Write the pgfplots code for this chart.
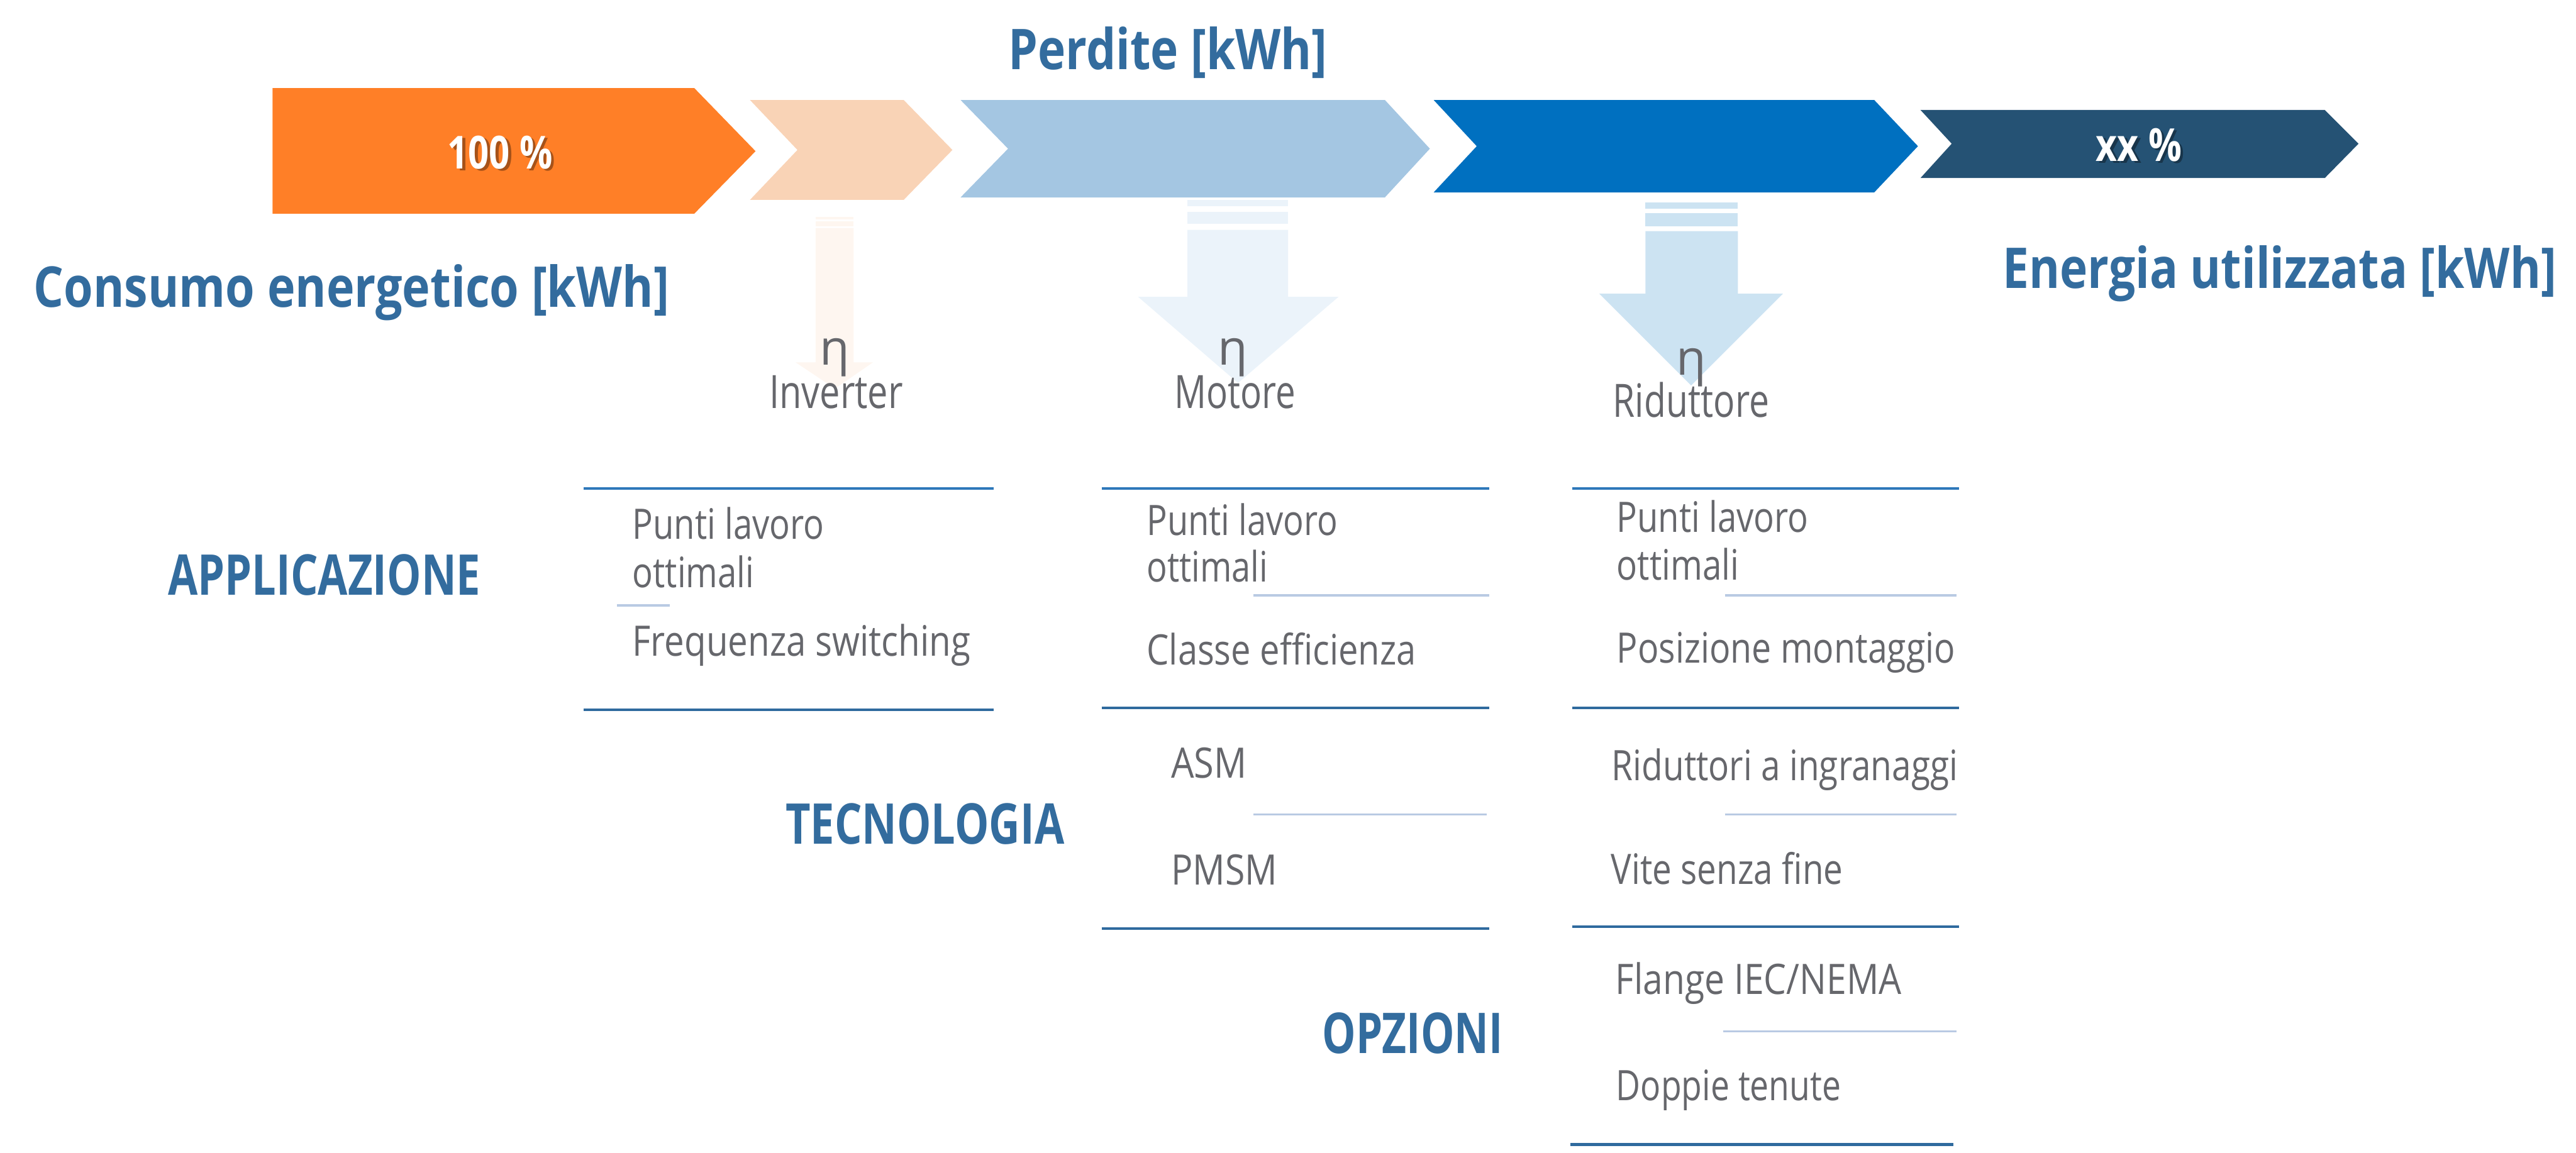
\documentclass[border=0pt]{standalone}
\usepackage{fontspec}
\setmainfont{Open Sans}
\usepackage{graphicx}
\usepackage{pgfplots}
\pgfplotsset{compat=1.18}
\definecolor{cOrange}{HTML}{FF7F27}
\definecolor{cPeach}{HTML}{F9D3B6}
\definecolor{cLBlue}{HTML}{A4C6E2}
\definecolor{cBlue}{HTML}{0070C0}
\definecolor{cNavy}{HTML}{255274}
\definecolor{aInv}{HTML}{FEF6F0}
\definecolor{aMot}{HTML}{EBF3FA}
\definecolor{aRid}{HTML}{CCE3F2}
\definecolor{cHead}{HTML}{336C9E}
\definecolor{cGray}{HTML}{66676C}
\definecolor{cTop}{HTML}{2E78BA}
\definecolor{cDark}{HTML}{2F6A9E}
\definecolor{cSep}{HTML}{B9CAE3}
\newlength\px \setlength\px{0.25pt}
\newcommand\hfont{\fontsize{22.5pt}{26pt}\selectfont\bfseries}
\newcommand\wfont{\fontsize{18.2pt}{22pt}\selectfont\bfseries}
\newcommand\gfont{\fontsize{16.8pt}{20pt}\selectfont}
\newcommand\lfont{\fontsize{18.4pt}{22pt}\selectfont}
\newcommand\efont{\fontsize{19.5pt}{22pt}\selectfont}
\newcommand\txt[5]{\node[anchor=base west,inner sep=0pt,outer sep=0pt,text=#4] at (axis cs:#1,#2) {\resizebox{#3\px}{\height}{#5}};}
\begin{document}
\begin{tikzpicture}
\begin{axis}[
  width=1030.5pt, height=461.25pt, scale only axis,
  xmin=0, xmax=4122, ymin=0, ymax=1845, y dir=reverse,
  hide axis, clip=false, no markers]
\addplot[draw=none] coordinates {(0,0) (4122,1845)};
% chevrons
\addplot[fill=cOrange, draw=none] coordinates {(436,141) (1111,141) (1209,242) (1111,342) (436,342)} -- cycle;
\addplot[fill=cPeach, draw=none] coordinates {(1200,160) (1446,160) (1524,240) (1446,320) (1200,320) (1276,240)} -- cycle;
\addplot[fill=cLBlue, draw=none] coordinates {(1537,160) (2216,160) (2288,238) (2216,316) (1537,316) (1613,238)} -- cycle;
\addplot[fill=cBlue, draw=none] coordinates {(2294,160) (2999,160) (3069,234) (2999,308) (2294,308) (2363,234)} -- cycle;
\addplot[fill=cNavy, draw=none] coordinates {(3073,176) (3720,176) (3774,230) (3720,285) (3073,285) (3123,230)} -- cycle;
% down arrows: Inverter
\addplot[fill=aInv, draw=none] coordinates {(1305,347) (1366,347) (1366,351) (1305,351)} -- cycle;
\addplot[fill=aInv, draw=none] coordinates {(1305,354) (1366,354) (1366,362) (1305,362)} -- cycle;
\addplot[fill=aInv, draw=none] coordinates {(1305,365) (1366,365) (1366,580) (1397,580) (1336,622) (1273,580) (1305,580)} -- cycle;
% Motore
\addplot[fill=aMot, draw=none] coordinates {(1900,320) (2061,320) (2061,330) (1900,330)} -- cycle;
\addplot[fill=aMot, draw=none] coordinates {(1900,339) (2061,339) (2061,358) (1900,358)} -- cycle;
\addplot[fill=aMot, draw=none] coordinates {(1900,368) (2061,368) (2061,475) (2142,475) (1981,613) (1821,475) (1900,475)} -- cycle;
% Riduttore
\addplot[fill=aRid, draw=none] coordinates {(2633,324) (2781,324) (2781,334) (2633,334)} -- cycle;
\addplot[fill=aRid, draw=none] coordinates {(2633,341) (2781,341) (2781,362) (2633,362)} -- cycle;
\addplot[fill=aRid, draw=none] coordinates {(2633,370) (2781,370) (2781,470) (2853,470) (2706,617) (2559,470) (2633,470)} -- cycle;
% section lines
\addplot[cTop, line width=1.05pt] coordinates {(934,782) (1590,782)};
\addplot[cDark, line width=1.05pt] coordinates {(934,1136) (1590,1136)};
\addplot[cSep, line width=0.8pt] coordinates {(987,969) (1072,969)};
\addplot[cTop, line width=1.05pt] coordinates {(1763,782) (2383,782)};
\addplot[cDark, line width=1.05pt] coordinates {(1763,1133) (2383,1133)};
\addplot[cDark, line width=1.05pt] coordinates {(1763,1486) (2383,1486)};
\addplot[cSep, line width=0.8pt] coordinates {(2006,953) (2383,953)};
\addplot[cSep, line width=0.8pt] coordinates {(2006,1304) (2379,1304)};
\addplot[cTop, line width=1.05pt] coordinates {(2516,782) (3135,782)};
\addplot[cDark, line width=1.05pt] coordinates {(2516,1133) (3135,1133)};
\addplot[cDark, line width=1.05pt] coordinates {(2516,1483) (3135,1483)};
\addplot[cDark, line width=1.05pt] coordinates {(2513,1832) (3126,1832)};
\addplot[cSep, line width=0.8pt] coordinates {(2760,953) (3131,953)};
\addplot[cSep, line width=0.8pt] coordinates {(2760,1304) (3131,1304)};
\addplot[cSep, line width=0.8pt] coordinates {(2757,1651) (3131,1651)};
% headings
\txt{1614}{111}{510}{cHead}{\hfont Perdite [kWh]}
\txt{54}{492}{1017}{cHead}{\hfont Consumo energetico [kWh]}
\txt{3205}{461}{886}{cHead}{\hfont Energia utilizzata [kWh]}
\txt{269}{952}{500}{cHead}{\hfont APPLICAZIONE}
\txt{1257}{1351}{446}{cHead}{\hfont TECNOLOGIA}
\txt{2116}{1686}{289}{cHead}{\hfont OPZIONI}
% white labels with shadow
\node[anchor=base west,inner sep=0pt,text=black,opacity=0.35] at (axis cs:720,273) {\resizebox{168\px}{\height}{\wfont 100 \%}};
\txt{716}{270}{168}{white}{\wfont 100 \%}
\node[anchor=base west,inner sep=0pt,text=black,opacity=0.35] at (axis cs:3358,261) {\resizebox{137\px}{\height}{\wfont xx \%}};
\txt{3354}{258}{137}{white}{\wfont xx \%}
% eta and component labels
\node[inner sep=0pt,text=cGray] at (axis cs:1336,572) {\efont η};
\node[inner sep=0pt,text=cGray] at (axis cs:1973,572) {\efont η};
\node[inner sep=0pt,text=cGray] at (axis cs:2706,588) {\efont η};
\txt{1231}{654}{214}{cGray}{\lfont Inverter}
\txt{1879}{654}{194}{cGray}{\lfont Motore}
\txt{2581}{668}{250}{cGray}{\lfont Riduttore}
% column 1
\txt{1012}{863}{307}{cGray}{\gfont Punti lavoro}
\txt{1012}{940}{195}{cGray}{\gfont ottimali}
\txt{1012}{1050}{541}{cGray}{\gfont Frequenza switching}
% column 2
\txt{1835}{857}{306}{cGray}{\gfont Punti lavoro}
\txt{1835}{931}{194}{cGray}{\gfont ottimali}
\txt{1835}{1064}{431}{cGray}{\gfont Classe efficienza}
\txt{1874}{1245}{121}{cGray}{\gfont ASM}
\txt{1874}{1416}{170}{cGray}{\gfont PMSM}
% column 3
\txt{2587}{852}{307}{cGray}{\gfont Punti lavoro}
\txt{2587}{928}{196}{cGray}{\gfont ottimali}
\txt{2587}{1061}{542}{cGray}{\gfont Posizione montaggio}
\txt{2579}{1249}{554}{cGray}{\gfont Riduttori a ingranaggi}
\txt{2578}{1415}{371}{cGray}{\gfont Vite senza fine}
\txt{2585}{1592}{458}{cGray}{\gfont Flange IEC/NEMA}
\txt{2586}{1762}{360}{cGray}{\gfont Doppie tenute}
\end{axis}
\end{tikzpicture}
\end{document}
